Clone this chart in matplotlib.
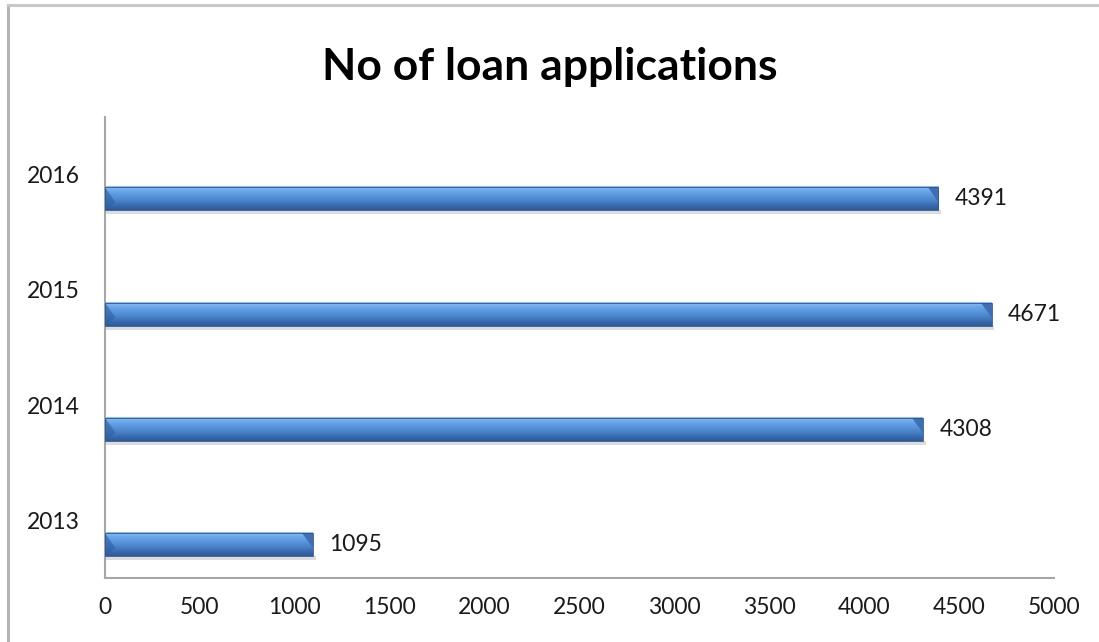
import matplotlib.pyplot as plt
import numpy as np
from matplotlib.colors import LinearSegmentedColormap
from matplotlib.patches import Polygon, Rectangle

# Data
years = ['2013', '2014', '2015', '2016']
applications = [1095, 4308, 4671, 4391]
x_ticks = [0, 500, 1000, 1500, 2000, 2500, 3000, 3500, 4000, 4500, 5000]

plt.rcParams['font.family'] = ['Lato', 'DejaVu Sans']

fig = plt.figure(figsize=(10.99, 6.42), dpi=100)
ax = fig.add_axes([105 / 1099, 1 - 578 / 642, (1054 - 105) / 1099, (578 - 117) / 642])

# outer chart frame (left and top edges visible)
fig.add_artist(plt.Line2D([8 / 1099, 8 / 1099], [0, 1 - 5 / 642], transform=fig.transFigure,
                          color='#b4b4b4', lw=2.2))
fig.add_artist(plt.Line2D([8 / 1099, 1], [1 - 5 / 642, 1 - 5 / 642], transform=fig.transFigure,
                          color='#c8c8c8', lw=2.2))

# bar gradient, bottom -> top
bar_cmap = LinearSegmentedColormap.from_list(
    'bevel', ['#2c5a98', '#3a6db0', '#4a84cc', '#5a95dc', '#6aa6ea', '#8ec0f4'])
grad = np.linspace(0, 1, 64).reshape(-1, 1)

offset = 0.21   # pseudo-3D depth shift
h = 0.2
bevel = 55

for i, v in enumerate(applications):
    y0 = i - offset - h / 2
    y1 = i - offset + h / 2
    # soft shadow
    ax.add_patch(Rectangle((0, y0 - 0.035), v + 15, 0.035, color='#dcdcdc', lw=0, zorder=1))
    ax.imshow(grad, extent=(0, v, y0, y1), origin='lower', cmap=bar_cmap,
              aspect='auto', zorder=2, interpolation='bilinear')
    # bevelled ends
    ax.add_patch(Polygon([(v - bevel, y1), (v, y1), (v, y0 + h * 0.35)],
                         closed=True, color='#3d6fb2', lw=0, zorder=3))
    ax.add_patch(Polygon([(0, y1), (bevel, y0 + h * 0.35), (0, y0)],
                         closed=True, color='#2f5e9e', alpha=0.6, lw=0, zorder=3))
    ax.add_patch(Rectangle((0, y0), v, h, fill=False, ec='#2d5590', lw=0.6, zorder=4))
    ax.annotate(str(v), xy=(v, i - offset), xytext=(12, 0), textcoords='offset points',
                va='center', ha='left', fontsize=16.5, color='#1a1a1a')

ax.set_xlim(0, 5000)
ax.set_ylim(-0.5, 3.5)
ax.set_xticks(x_ticks)
ax.set_xticklabels([str(t) for t in x_ticks])
ax.set_yticks(range(len(years)))
ax.set_yticklabels(years)
ax.tick_params(axis='both', length=0, labelsize=16.5, colors='#1a1a1a')
ax.tick_params(axis='x', pad=14)
ax.tick_params(axis='y', pad=18)

for side in ['top', 'right']:
    ax.spines[side].set_visible(False)
for side in ['left', 'bottom']:
    ax.spines[side].set_color('#a6a6a6')
    ax.spines[side].set_linewidth(1.5)

fig.text(550 / 1099, 1 - 67 / 642, 'No of loan applications', ha='center', va='center',
         fontsize=32, fontweight='bold', color='black')

fig.savefig('out.png', dpi=100, facecolor='white')
